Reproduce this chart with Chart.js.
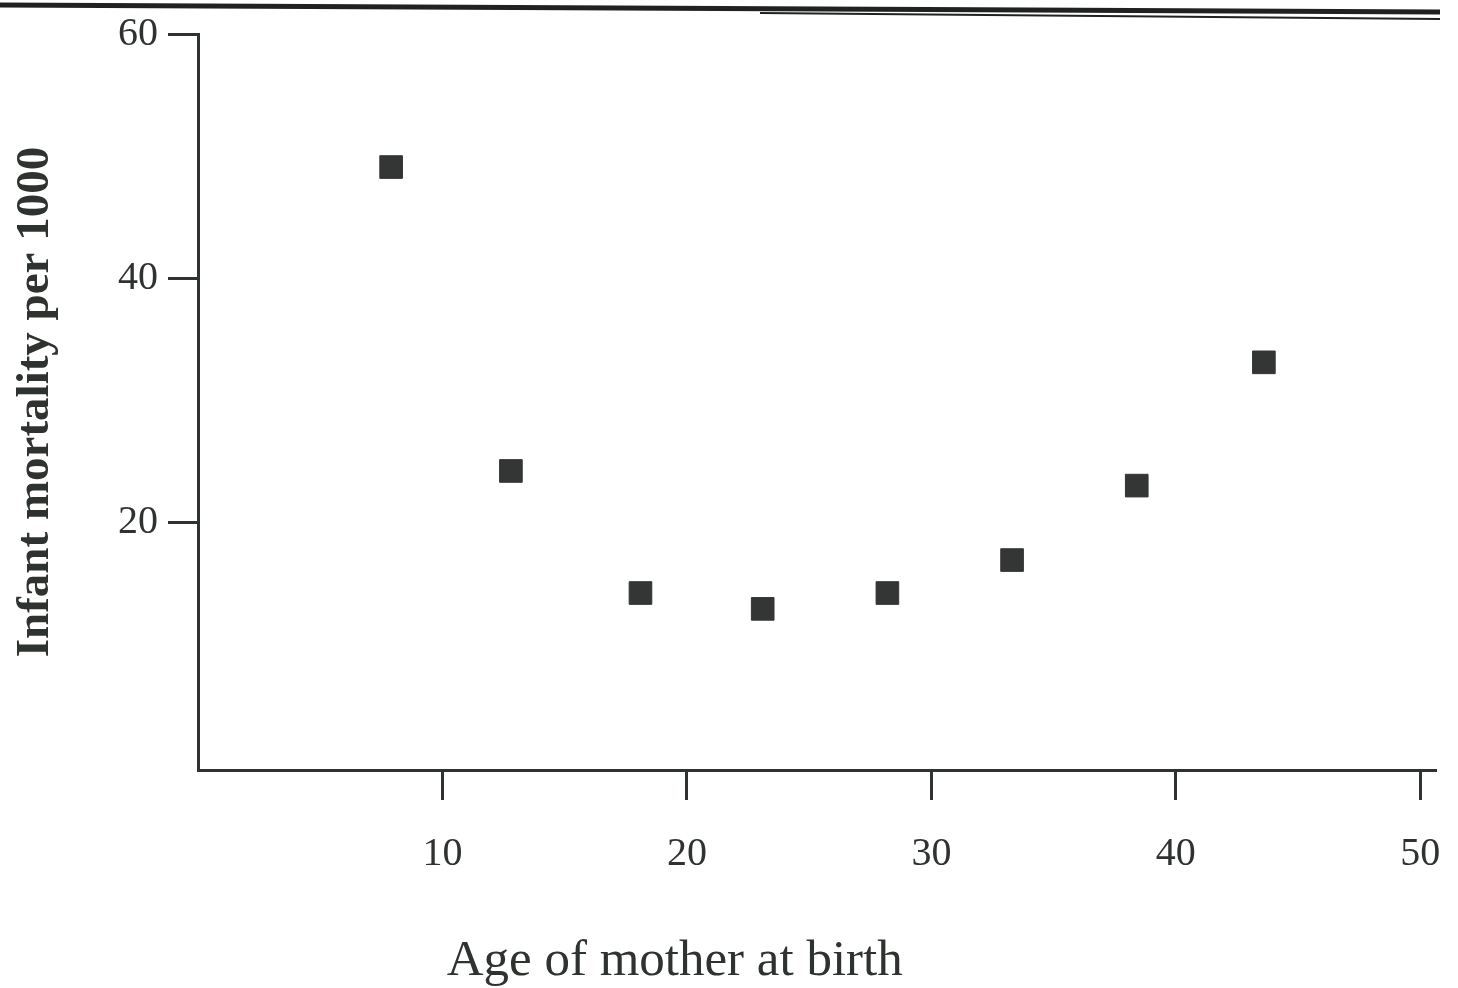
<!DOCTYPE html>
<html>
<head>
<meta charset="utf-8">
<script src="https://cdn.jsdelivr.net/npm/chart.js@4/dist/chart.umd.min.js"></script>
<style>
  body { margin: 0; background: #ffffff; }
  #wrap { width: 1458px; height: 988px; position: relative; }
</style>
</head>
<body>
<div id="wrap"><canvas id="mortalityChart"></canvas></div>
<script>
// values
const ages = [7.9, 12.8, 18.1, 23.1, 28.2, 33.3, 38.4, 43.6];
const mortality = [49.1, 24.2, 14.2, 12.9, 14.2, 16.9, 23.0, 33.1];
const xTicks = [10, 20, 30, 40, 50];
const yTicks = [20, 40, 60];
const xTitle = "Age of mother at birth";
const yTitle = "Infant mortality per 1000";

const ink = "#2f3330";

document.addEventListener("DOMContentLoaded", function () {
  const ctx = document.getElementById("mortalityChart").getContext("2d");

  // x title sits left of centre in the original, so it is drawn by hand
  const extras = {
    id: "extras",
    beforeDraw(chart) {
      const c = chart.ctx;
      c.save();
      // dark page edge across the top of the scan
      c.strokeStyle = "#1f2220";
      c.lineWidth = 5;
      c.beginPath();
      c.moveTo(0, 5);
      c.lineTo(1440, 12);
      c.stroke();
      c.lineWidth = 2;
      c.beginPath();
      c.moveTo(760, 13);
      c.lineTo(1440, 19);
      c.stroke();
      c.restore();
    },
    afterDraw(chart) {
      const c = chart.ctx;
      const xs = chart.scales.x;
      c.save();
      c.fillStyle = ink;
      c.font = "51px 'Liberation Serif'";
      c.textAlign = "center";
      c.textBaseline = "alphabetic";
      c.fillText(xTitle, xs.getPixelForValue(19.5), 975);
      c.restore();
    },
  };

  new Chart(ctx, {
    type: "scatter",
    data: {
      datasets: [
        {
          label: "Infant mortality",
          data: ages.map((a, i) => ({ x: a, y: mortality[i] })),
          pointStyle: "rect",
          pointRadius: 16,
          backgroundColor: "#333634",
          borderColor: "#333634",
          borderWidth: 1,
        },
      ],
    },
    options: {
      responsive: true,
      maintainAspectRatio: false,
      animation: false,
      layout: { padding: { top: 30, right: 23, left: 0, bottom: 0 } },
      scales: {
        x: {
          type: "linear",
          min: 0,
          max: 50.6,
          afterFit: (s) => {
            s.height = 218;
            s.paddingRight = 0;
            s.paddingLeft = 0;
          },
          afterBuildTicks: (s) => { s.ticks = xTicks.map((v) => ({ value: v })); },
          border: { display: true, color: ink, width: 3 },
          grid: { drawOnChartArea: false, drawTicks: true, tickLength: 30, color: ink, lineWidth: 3 },
          ticks: {
            color: ink,
            padding: 30,
            maxRotation: 0,
            font: { family: "Liberation Serif", size: 40 },
          },
        },
        y: {
          type: "linear",
          min: -0.3,
          max: 60,
          afterFit: (s) => { s.width = 198; },
          afterBuildTicks: (s) => { s.ticks = yTicks.map((v) => ({ value: v })); },
          border: { display: true, color: ink, width: 3 },
          grid: { drawOnChartArea: false, drawTicks: true, tickLength: 30, color: ink, lineWidth: 3 },
          ticks: {
            color: ink,
            padding: 10,
            font: { family: "Liberation Serif", size: 40 },
          },
          title: {
            display: true,
            text: yTitle,
            color: ink,
            padding: { top: 8, bottom: 0 },
            font: { family: "Liberation Serif", size: 47, weight: "bold" },
          },
        },
      },
      plugins: {
        legend: { display: false },
        tooltip: { enabled: false },
      },
    },
    plugins: [extras],
  });
});
</script>
</body>
</html>
